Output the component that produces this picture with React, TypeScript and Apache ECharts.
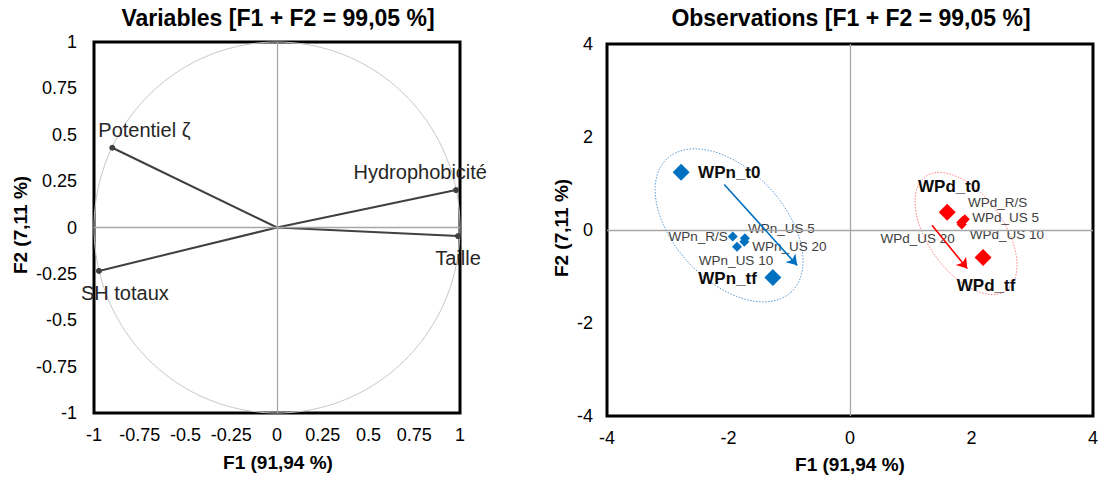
import React, { useEffect, useRef } from "react";
import * as echarts from "echarts";

// ---------- data ----------
const varNames = ["Potentiel ζ", "Hydrophobicité", "Taille", "SH totaux"];
const varF1 = [-0.9, 0.978, 0.989, -0.973];
const varF2 = [0.43, 0.202, -0.046, -0.234];

const obsNames = [
  "WPn_t0", "WPn_R/S", "WPn_US 5", "WPn_US 10", "WPn_US 20", "WPn_tf",
  "WPd_t0", "WPd_R/S", "WPd_US 5", "WPd_US 10", "WPd_US 20", "WPd_tf",
];
const obsF1 = [-2.78, -1.93, -1.73, -1.86, -1.74, -1.27, 1.6, 1.86, 1.83, 1.89, 1.84, 2.19];
const obsF2 = [1.24, -0.14, -0.18, -0.36, -0.25, -1.02, 0.38, 0.2, 0.16, 0.23, 0.12, -0.59];
const obsGroup = ["n", "n", "n", "n", "n", "n", "d", "d", "d", "d", "d", "d"];
const obsMain = [true, false, false, false, false, true, true, false, false, false, false, true];

// arrows (t0 -> tf trend), [x1, y1, x2, y2]
const arrowBlue = [-2.07, 0.98, -0.87, -0.76];
const arrowRed = [1.35, 0.1, 1.93, -0.83];

// confidence ellipses: center, conjugate semi-axis vectors U and V (data units)
const ellBlue = { c: [-1.99, 0.1], u: [1.022, -1.434], v: [-0.662, -0.808] };
const ellRed = { c: [1.91, -0.075], u: [0.667, -1.224], v: [-0.509, -0.476] };

const varTicksMin = -1, varTicksMax = 1, varTickStep = 0.25;
const obsTicksMin = -4, obsTicksMax = 4, obsTickStep = 2;

// ---------- styles ----------
const FONT = "Liberation Sans, Arial, sans-serif";
const BLUE = "#0070C0";
const RED = "#FF0000";

// label offsets (pixels) and alignment
const varLabelStyle: [number, number, string][] = [
  [-14, -18, "left"],
  [31, -18, "right"],
  [0, 22, "center"],
  [-18, 22, "left"],
];
const obsLabelStyle: [number, number, string][] = [
  [17, 0, "left"],
  [-5, 0, "right"],
  [3, -10, "left"],
  [-1, 14, "center"],
  [8, 5, "left"],
  [-16, 1, "right"],
  [2, -26, "center"],
  [5, -18, "left"],
  [11, -5, "left"],
  [5, 15, "left"],
  [-7, 14, "right"],
  [3, 28, "center"],
];

function ellipseSeries(e: { c: number[]; u: number[]; v: number[] }, color: string) {
  return {
    type: "custom",
    xAxisIndex: 1,
    yAxisIndex: 1,
    silent: true,
    z: 1,
    data: [[e.c[0], e.c[1]]],
    renderItem: (params: any, api: any) => {
      const pts: number[][] = [];
      for (let k = 0; k <= 120; k++) {
        const t = (k / 120) * Math.PI * 2;
        pts.push(
          api.coord([
            e.c[0] + Math.cos(t) * e.u[0] + Math.sin(t) * e.v[0],
            e.c[1] + Math.cos(t) * e.u[1] + Math.sin(t) * e.v[1],
          ])
        );
      }
      return {
        type: "polyline",
        shape: { points: pts },
        style: { stroke: color, lineWidth: 1, fill: "none", lineDash: [1.5, 1.5] },
      };
    },
  };
}

function obsScatter(group: string, main: boolean, color: string, size: number, arrow?: number[]) {
  const data: number[][] = [];
  obsNames.forEach((_, i) => {
    if (obsGroup[i] === group && obsMain[i] === main) data.push([obsF1[i], obsF2[i]]);
  });
  const s: any = {
    type: "scatter",
    xAxisIndex: 1,
    yAxisIndex: 1,
    symbol: "diamond",
    symbolSize: size,
    itemStyle: { color, opacity: 1 },
    z: 3,
    data,
  };
  if (arrow) {
    s.markLine = {
      silent: true,
      symbol: ["none", "arrow"],
      symbolSize: 10,
      label: { show: false },
      lineStyle: { color, width: 1.6, type: "solid" },
      data: [[{ coord: [arrow[0], arrow[1]] }, { coord: [arrow[2], arrow[3]] }]],
    };
  }
  return s;
}

function zeroLines(xi: number) {
  return {
    type: "line",
    xAxisIndex: xi,
    yAxisIndex: xi,
    data: [],
    silent: true,
    markLine: {
      silent: true,
      symbol: ["none", "none"],
      label: { show: false },
      lineStyle: { color: "#a6a6a6", width: 1.3, type: "solid" },
      data: [{ xAxis: 0 }, { yAxis: 0 }],
    },
  };
}

const txt = (text: string, x: number, y: number, font: string, rot = 0) => ({
  type: "text",
  x,
  y,
  rotation: rot,
  style: { text, font, fill: "#000", align: "center", verticalAlign: "middle", textAlign: "center", textVerticalAlign: "middle" },
});

export default function App() {
  const ref = useRef<HTMLDivElement>(null);
  useEffect(() => {
    if (!ref.current) return;
    const chart = echarts.init(ref.current, undefined, { renderer: "svg" });
    const axisLabelX = { fontSize: 18, color: "#000", fontFamily: FONT, margin: 13 };
    const axisLabelY = { fontSize: 18, color: "#000", fontFamily: FONT, margin: 17 };
    const baseAxis = {
      axisLine: { show: false },
      axisTick: { show: false },
      splitLine: { show: false },
    };
    const option: any = {
      animation: false,
      backgroundColor: "#fff",
      grid: [
        { left: 94, top: 42, width: 366, height: 371, show: true, borderColor: "#000", borderWidth: 3, backgroundColor: "transparent" },
        { left: 607, top: 44, width: 486, height: 372, show: true, borderColor: "#000", borderWidth: 3, backgroundColor: "transparent" },
      ],
      xAxis: [
        { type: "value", gridIndex: 0, min: varTicksMin, max: varTicksMax, interval: varTickStep, ...baseAxis, axisLabel: axisLabelX },
        { type: "value", gridIndex: 1, min: obsTicksMin, max: obsTicksMax, interval: obsTickStep, ...baseAxis, axisLabel: axisLabelX },
      ],
      yAxis: [
        { type: "value", gridIndex: 0, min: varTicksMin, max: varTicksMax, interval: varTickStep, ...baseAxis, axisLabel: axisLabelY },
        { type: "value", gridIndex: 1, min: obsTicksMin, max: obsTicksMax, interval: obsTickStep, ...baseAxis, axisLabel: { ...axisLabelY, margin: 14 } },
      ],
      graphic: [
        txt("Variables [F1 + F2 = 99,05 %]", 278, 18, `bold 23px ${FONT}`),
        txt("Observations [F1 + F2 = 99,05 %]", 851, 18, `bold 23px ${FONT}`),
        txt("F1 (91,94 %)", 278, 462, `bold 19px ${FONT}`),
        txt("F1 (91,94 %)", 850, 464, `bold 19px ${FONT}`),
        txt("F2 (7,11 %)", 20, 225, `bold 19px ${FONT}`, Math.PI / 2),
        txt("F2 (7,11 %)", 561, 228, `bold 19px ${FONT}`, Math.PI / 2),
      ],
      series: [
        zeroLines(0),
        zeroLines(1),
        // correlation circle
        {
          type: "custom",
          xAxisIndex: 0,
          yAxisIndex: 0,
          silent: true,
          z: 1,
          data: [[0, 0]],
          renderItem: (params: any, api: any) => {
            const pts: number[][] = [];
            for (let k = 0; k <= 180; k++) {
              const t = (k / 180) * Math.PI * 2;
              pts.push(api.coord([Math.cos(t), Math.sin(t)]));
            }
            return { type: "polyline", shape: { points: pts }, style: { stroke: "#c8c8c8", lineWidth: 1, fill: "none" } };
          },
        },
        // variable vectors
        {
          type: "custom",
          xAxisIndex: 0,
          yAxisIndex: 0,
          silent: true,
          z: 3,
          data: varNames.map((_, i) => [varF1[i], varF2[i]]),
          renderItem: (params: any, api: any) => {
            const i = params.dataIndex;
            const o = api.coord([0, 0]);
            const p = api.coord([api.value(0), api.value(1)]);
            const ls = varLabelStyle[i];
            return {
              type: "group",
              children: [
                { type: "line", shape: { x1: o[0], y1: o[1], x2: p[0], y2: p[1] }, style: { stroke: "#404040", lineWidth: 2 } },
                { type: "circle", shape: { cx: p[0], cy: p[1], r: 3 }, style: { fill: "#404040" } },
                {
                  type: "text",
                  x: p[0] + ls[0],
                  y: p[1] + ls[1],
                  style: { text: varNames[i], font: `20px ${FONT}`, fill: "#262626", align: ls[2], verticalAlign: "middle", textAlign: ls[2], textVerticalAlign: "middle" },
                },
              ],
            };
          },
        },
        ellipseSeries(ellBlue, "#5B9BD5"),
        ellipseSeries(ellRed, "#FF7C80"),
        obsScatter("n", false, BLUE, 10),
        obsScatter("n", true, BLUE, 17, arrowBlue),
        obsScatter("d", false, RED, 10),
        obsScatter("d", true, RED, 17, arrowRed),
        // observation labels
        {
          type: "custom",
          xAxisIndex: 1,
          yAxisIndex: 1,
          silent: true,
          z: 4,
          data: obsNames.map((_, i) => [obsF1[i], obsF2[i]]),
          renderItem: (params: any, api: any) => {
            const i = params.dataIndex;
            const p = api.coord([api.value(0), api.value(1)]);
            const ls = obsLabelStyle[i];
            const bold = obsMain[i];
            return {
              type: "text",
              x: p[0] + ls[0],
              y: p[1] + ls[1],
              style: {
                text: obsNames[i],
                font: bold ? `bold 17px ${FONT}` : `13.5px ${FONT}`,
                fill: bold ? "#0d0d0d" : "#404040",
                align: ls[2],
                verticalAlign: "middle",
                textAlign: ls[2],
                textVerticalAlign: "middle",
              },
            };
          },
        },
      ],
    };
    chart.setOption(option);
    return () => chart.dispose();
  }, []);
  return <div ref={ref} style={{ width: 1101, height: 483, position: "absolute", left: 0, top: 0 }} />;
}
